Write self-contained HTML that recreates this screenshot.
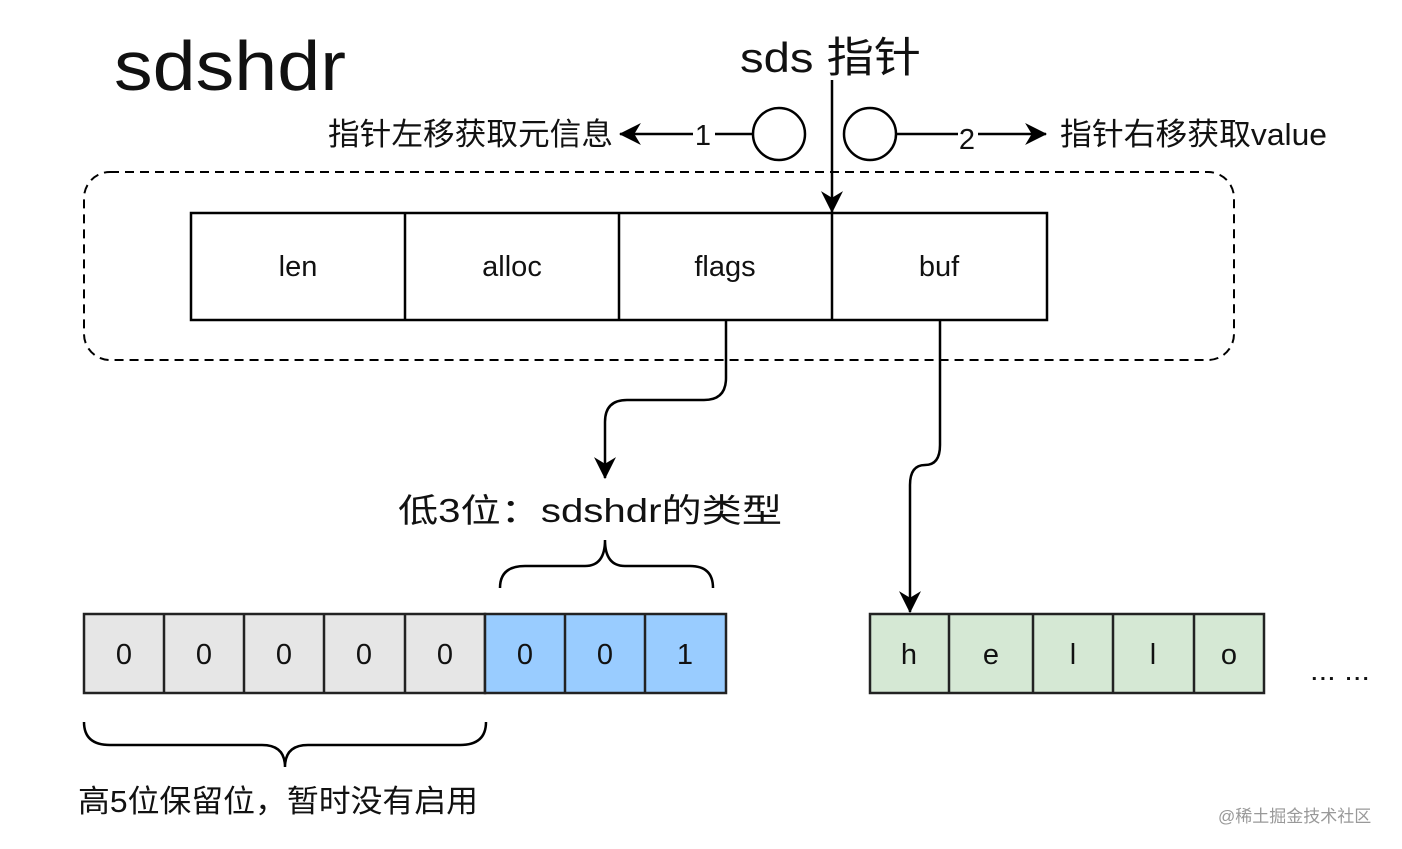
<!DOCTYPE html>
<html><head><meta charset="utf-8"><style>
html,body{margin:0;padding:0;background:#fff;}
svg{display:block;}
text{font-family:"Liberation Sans","Noto Sans CJK SC",sans-serif;fill:#111;}
</style></head><body>
<svg width="1402" height="849" viewBox="0 0 1402 849" xmlns="http://www.w3.org/2000/svg">
<defs>
<marker id="ah2" viewBox="0 0 20 20" markerWidth="22" markerHeight="22" refX="19" refY="10" orient="auto" markerUnits="userSpaceOnUse">
<path d="M0,0 L20,10 L0,20 L6,10 Z" fill="#000"/>
</marker>
</defs>
<rect width="1402" height="849" fill="#fff"/>
<text x="114" y="90" font-size="70" textLength="232" lengthAdjust="spacingAndGlyphs">sdshdr</text>
<text x="740" y="72" font-size="42" textLength="181" lengthAdjust="spacingAndGlyphs">sds 指针</text>
<text x="328" y="145" font-size="31" textLength="285" lengthAdjust="spacingAndGlyphs">指针左移获取元信息</text>
<text x="1060" y="145" font-size="31" textLength="267" lengthAdjust="spacingAndGlyphs">指针右移获取value</text>
<g stroke="#000" stroke-width="2.5" fill="none">
<line x1="832" y1="80" x2="832" y2="212" marker-end="url(#ah2)"/>
<circle cx="779" cy="134" r="26"/>
<circle cx="870" cy="134" r="26"/>
<line x1="752" y1="134" x2="715" y2="134"/>
<line x1="693" y1="134" x2="620" y2="134" marker-end="url(#ah2)"/>
<line x1="896" y1="134" x2="958" y2="134"/>
<line x1="978" y1="134" x2="1046" y2="134" marker-end="url(#ah2)"/>
<rect x="84" y="172" width="1150" height="188" rx="26" stroke-dasharray="9,6" stroke-width="2"/>
<rect x="191" y="213" width="856" height="107"/>
<line x1="405" y1="213" x2="405" y2="320"/>
<line x1="619" y1="213" x2="619" y2="320"/>
<line x1="832" y1="213" x2="832" y2="320"/>
<path d="M726,320 L726,378 Q726,400 704,400 L627,400 Q605,400 605,422 L605,478" marker-end="url(#ah2)"/>
<path d="M940,320 L940,445 Q940,465 925,465 Q910,465 910,485 L910,612" marker-end="url(#ah2)"/>
<path d="M500,588 Q500,566 525,566 L585,566 Q605,566 605,540 Q605,566 625,566 L690,566 Q713,566 713,588"/>
<path d="M84,722 Q84,745 110,745 L262,745 Q285,745 285,767 Q285,745 308,745 L460,745 Q486,745 486,722"/>
</g>
<text x="703" y="145" font-size="29" text-anchor="middle">1</text>
<text x="967" y="149" font-size="29" text-anchor="middle">2</text>
<g font-size="29" text-anchor="middle">
<text x="298" y="276">len</text>
<text x="512" y="276">alloc</text>
<text x="725" y="276">flags</text>
<text x="939" y="276">buf</text>
</g>
<text x="398" y="522" font-size="33" textLength="384" lengthAdjust="spacingAndGlyphs">低3位：sdshdr的类型</text>
<g stroke="#222" stroke-width="2.5">
<rect x="84" y="614" width="401" height="79" fill="#e6e6e6"/>
<rect x="485" y="614" width="241" height="79" fill="#99ccff"/>
<line x1="164" y1="614" x2="164" y2="693"/><line x1="244" y1="614" x2="244" y2="693"/>
<line x1="324" y1="614" x2="324" y2="693"/><line x1="405" y1="614" x2="405" y2="693"/>
<line x1="565" y1="614" x2="565" y2="693"/><line x1="645" y1="614" x2="645" y2="693"/>
<rect x="870" y="614" width="394" height="79" fill="#d5e8d4"/>
<line x1="949" y1="614" x2="949" y2="693"/><line x1="1033" y1="614" x2="1033" y2="693"/>
<line x1="1113" y1="614" x2="1113" y2="693"/><line x1="1194" y1="614" x2="1194" y2="693"/>
</g>
<g font-size="29" text-anchor="middle">
<text x="124" y="664">0</text><text x="204" y="664">0</text><text x="284" y="664">0</text>
<text x="364" y="664">0</text><text x="445" y="664">0</text><text x="525" y="664">0</text>
<text x="605" y="664">0</text><text x="685" y="664">1</text>
<text x="909" y="664">h</text><text x="991" y="664">e</text><text x="1073" y="664">l</text>
<text x="1153" y="664">l</text><text x="1229" y="664">o</text>
</g>
<text x="1310" y="680" font-size="28" textLength="60" lengthAdjust="spacingAndGlyphs">... ...</text>
<text x="78" y="812" font-size="31" textLength="400" lengthAdjust="spacingAndGlyphs">高5位保留位，暂时没有启用</text>
<text x="1218" y="822" font-size="17" style="fill:#999">@稀土掘金技术社区</text>
</svg>
</body></html>
